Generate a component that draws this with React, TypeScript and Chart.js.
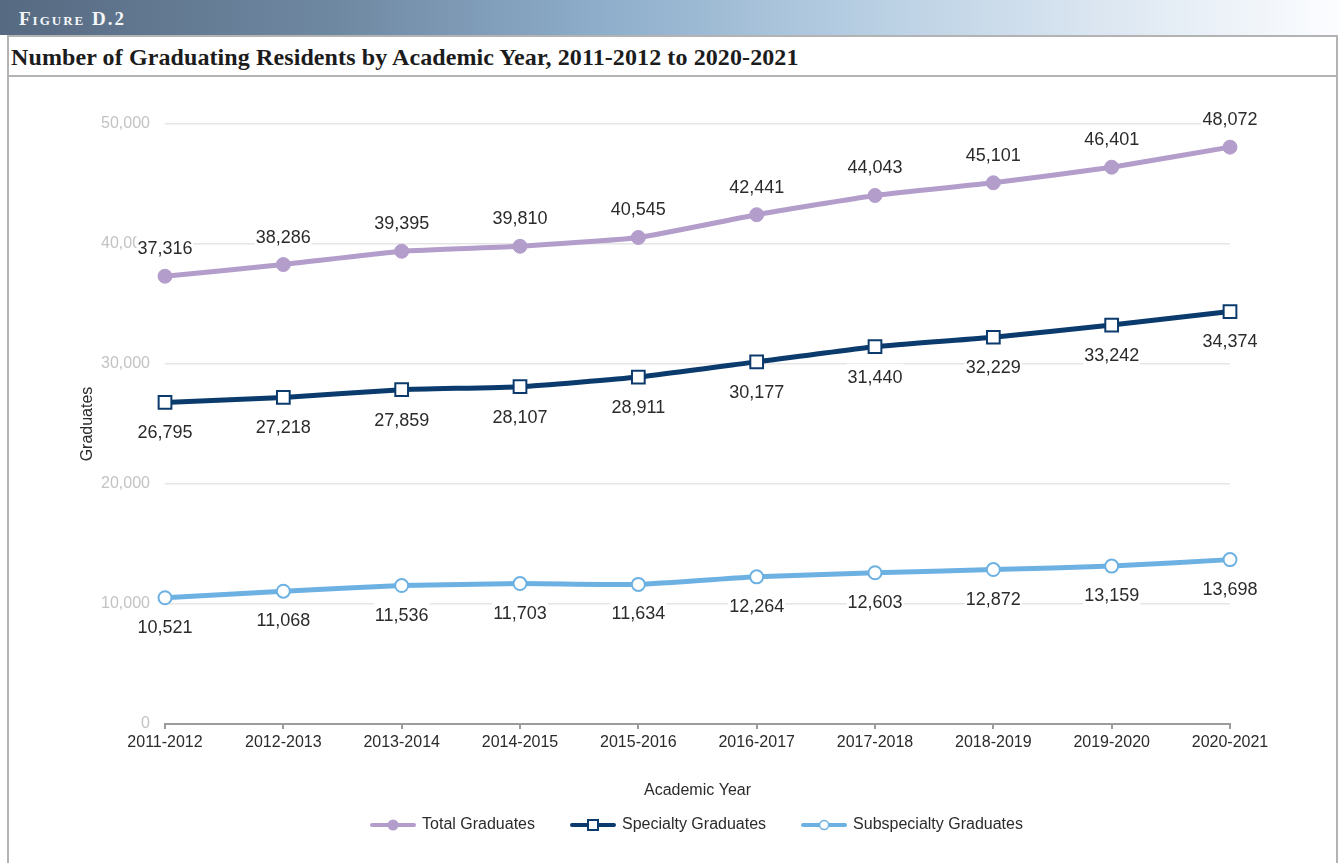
import React, { useEffect, useRef } from 'react';
import { Chart, registerables } from 'chart.js';

Chart.register(...registerables);

const categories = ['2011-2012', '2012-2013', '2013-2014', '2014-2015', '2015-2016', '2016-2017', '2017-2018', '2018-2019', '2019-2020', '2020-2021'];
const totalGraduates = [37316, 38286, 39395, 39810, 40545, 42441, 44043, 45101, 46401, 48072];
const specialtyGraduates = [26795, 27218, 27859, 28107, 28911, 30177, 31440, 32229, 33242, 34374];
const subspecialtyGraduates = [10521, 11068, 11536, 11703, 11634, 12264, 12603, 12872, 13159, 13698];
const yTickValues = [0, 10000, 20000, 30000, 40000, 50000];
const seriesNames = ['Total Graduates', 'Specialty Graduates', 'Subspecialty Graduates'];

const FONT = "'Liberation Sans', Arial, sans-serif";
const C_TOTAL = '#b39dcb';
const C_SPEC = '#0b3a6c';
const C_SUB = '#6db1e3';
const labelOffsets = [-28, 30, 29];

function legendIcon(kind: string, color: string) {
  const c = document.createElement('canvas');
  c.width = 46;
  c.height = 18;
  const ctx = c.getContext('2d')!;
  ctx.strokeStyle = color;
  ctx.lineWidth = 4;
  ctx.lineCap = 'round';
  ctx.beginPath();
  ctx.moveTo(2, 9);
  ctx.lineTo(44, 9);
  ctx.stroke();
  if (kind === 'dot') {
    ctx.fillStyle = color;
    ctx.beginPath();
    ctx.arc(23, 9, 5.5, 0, Math.PI * 2);
    ctx.fill();
  } else if (kind === 'square') {
    ctx.fillStyle = '#fff';
    ctx.fillRect(18, 4, 10, 10);
    ctx.lineWidth = 2;
    ctx.strokeRect(18, 4, 10, 10);
  } else {
    ctx.fillStyle = '#fff';
    ctx.beginPath();
    ctx.arc(23, 9, 4.5, 0, Math.PI * 2);
    ctx.fill();
    ctx.lineWidth = 1.5;
    ctx.stroke();
  }
  return c;
}

const dataLabelPlugin = {
  id: 'dataLabels',
  afterDatasetsDraw(chart: any) {
    const ctx = chart.ctx;
    ctx.save();
    ctx.font = `18px ${FONT}`;
    ctx.textAlign = 'center';
    ctx.textBaseline = 'middle';
    chart.data.datasets.forEach((ds: any, di: number) => {
      const meta = chart.getDatasetMeta(di);
      meta.data.forEach((pt: any, i: number) => {
        const text = Number(ds.data[i]).toLocaleString('en-US');
        const x = pt.x;
        const y = pt.y + labelOffsets[di];
        const w = ctx.measureText(text).width + 2;
        ctx.fillStyle = '#ffffff';
        ctx.fillRect(x - w / 2, y - 13, w, 26);
        ctx.fillStyle = '#2b2b2b';
        ctx.fillText(text, x, y + 1);
      });
    });
    ctx.restore();
  },
};

export default function App() {
  const ref = useRef<HTMLCanvasElement | null>(null);

  useEffect(() => {
    if (!ref.current) return;
    const icons = [legendIcon('dot', C_TOTAL), legendIcon('square', C_SPEC), legendIcon('ring', C_SUB)];
    const chart = new Chart(ref.current, {
      type: 'line',
      data: {
        labels: categories,
        datasets: [
          {
            label: seriesNames[0],
            data: totalGraduates,
            borderColor: C_TOTAL,
            backgroundColor: C_TOTAL,
            borderWidth: 5,
            pointStyle: 'circle',
            pointRadius: 7,
            pointBackgroundColor: C_TOTAL,
            pointBorderColor: C_TOTAL,
            pointBorderWidth: 1,
            tension: 0.15,
          },
          {
            label: seriesNames[1],
            data: specialtyGraduates,
            borderColor: C_SPEC,
            backgroundColor: C_SPEC,
            borderWidth: 5,
            pointStyle: 'rect',
            pointRadius: 9,
            pointBackgroundColor: '#ffffff',
            pointBorderColor: C_SPEC,
            pointBorderWidth: 2,
            tension: 0.15,
          },
          {
            label: seriesNames[2],
            data: subspecialtyGraduates,
            borderColor: C_SUB,
            backgroundColor: C_SUB,
            borderWidth: 5,
            pointStyle: 'circle',
            pointRadius: 6.5,
            pointBackgroundColor: '#ffffff',
            pointBorderColor: C_SUB,
            pointBorderWidth: 2,
            tension: 0.15,
          },
        ],
      },
      options: {
        responsive: false,
        animation: false,
        layout: { padding: { top: 46, right: 107, left: 0, bottom: 20 } },
        plugins: {
          tooltip: { enabled: false },
          legend: {
            position: 'bottom',
            fullSize: false,
            labels: {
              usePointStyle: true,
              pointStyleWidth: 42,
              padding: 37,
              color: '#2b2b2b',
              font: { family: FONT, size: 16 },
              generateLabels: (ch: any) => {
                const items = Chart.defaults.plugins.legend.labels.generateLabels(ch);
                return items.map((it: any, i: number) => ({ ...it, pointStyle: icons[i] }));
              },
            },
          },
        },
        scales: {
          x: {
            type: 'category',
            offset: false,
            grid: { drawOnChartArea: false, drawTicks: true, tickLength: 5, color: '#9c9c9c', lineWidth: 2 },
            border: { color: '#9c9c9c', width: 2 },
            ticks: { color: '#2b2b2b', font: { family: FONT, size: 16 }, padding: 4, maxRotation: 0, autoSkip: false },
            title: {
              display: true,
              text: 'Academic Year',
              color: '#2b2b2b',
              font: { family: FONT, size: 16 },
              padding: { top: 25.2, bottom: -20.6 },
            },
          },
          y: {
            min: 0,
            max: 50000,
            afterBuildTicks: (scale: any) => {
              scale.ticks = yTickValues.map((v) => ({ value: v }));
            },
            afterFit: (scale: any) => {
              scale.width = 156;
            },
            ticks: {
              color: '#c3c3c3',
              font: { family: FONT, size: 16 },
              padding: 15,
              callback: (v: any) => Number(v).toLocaleString('en-US'),
            },
            grid: {
              drawTicks: false,
              lineWidth: 1.5,
              color: (c: any) => (c.tick && c.tick.value === 0 ? 'rgba(0,0,0,0)' : '#e5e5e5'),
            },
            border: { display: false },
            title: {
              display: true,
              text: 'Graduates',
              color: '#2b2b2b',
              font: { family: FONT, size: 16 },
              padding: { top: 69.4, bottom: 0 },
            },
          },
        },
      },
      plugins: [dataLabelPlugin],
    } as any);
    return () => chart.destroy();
  }, []);

  return (
    <div style={{ position: 'absolute', left: 0, top: 0, width: 1340, height: 863, background: '#fff', overflow: 'hidden' }}>
      <div
        style={{
          position: 'absolute',
          left: 0,
          top: 0,
          width: 1340,
          height: 35,
          background: 'linear-gradient(to right, #566a81 0%, #6f88a2 25%, #8eaecb 45%, #b8cfe3 65%, #dbe6f1 82%, #fcfdff 100%)',
        }}
      >
        <span
          style={{
            position: 'absolute',
            left: 19,
            top: 8,
            fontFamily: "'Liberation Serif', 'DejaVu Serif', serif",
            fontWeight: 'bold',
            fontVariant: 'small-caps',
            fontSize: 19,
            lineHeight: '22px',
            letterSpacing: '2px',
            color: '#f4f6f8',
            whiteSpace: 'nowrap',
          }}
        >
          Figure D.2
        </span>
      </div>
      <div
        style={{
          position: 'absolute',
          left: 7,
          top: 35,
          width: 1331,
          height: 830,
          border: '2px solid #b3b3b3',
          borderBottom: 'none',
          boxSizing: 'border-box',
        }}
      />
      <div style={{ position: 'absolute', left: 7, top: 75, width: 1331, height: 2, background: '#b3b3b3' }} />
      <div
        style={{
          position: 'absolute',
          left: 11,
          top: 43,
          fontFamily: "'Liberation Serif', 'DejaVu Serif', serif",
          fontWeight: 'bold',
          fontSize: 24,
          letterSpacing: '0.1px',
          color: '#1c1c1c',
          whiteSpace: 'nowrap',
          lineHeight: '28px',
        }}
      >
        Number of Graduating Residents by Academic Year, 2011-2012 to 2020-2021
      </div>
      <canvas ref={ref} width={1328} height={785} style={{ position: 'absolute', left: 9, top: 78, width: 1328, height: 785 }} />
    </div>
  );
}
